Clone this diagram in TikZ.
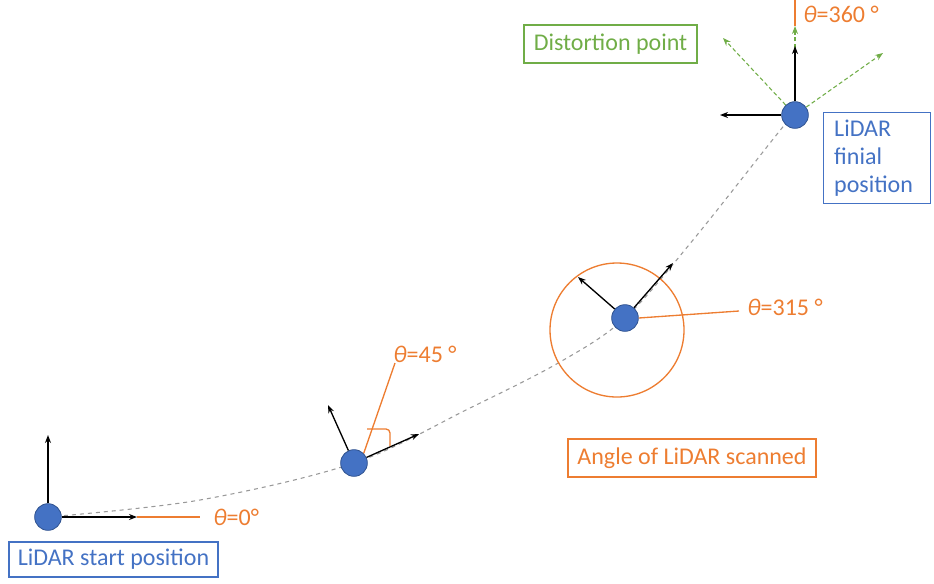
\documentclass[tikz,border=0pt]{standalone}
\usepackage{fontspec}
\setmainfont{Carlito}
\usetikzlibrary{arrows.meta}
\definecolor{lidarblue}{HTML}{4472C4}
\definecolor{dotedge}{HTML}{2F528F}
\definecolor{scanorange}{HTML}{ED7D31}
\definecolor{distgreen}{HTML}{70AD47}

\begin{document}
\begin{tikzpicture}[>={Stealth[length=6pt,width=4.5pt]}, x=0.75pt, y=-0.75pt,
    font=\fontsize{18}{21}\selectfont,
    lidar/.style={circle, fill=lidarblue, draw=dotedge, line width=0.6pt, minimum size=20pt, inner sep=0pt},
    axis/.style={->, line width=1pt},
    scan/.style={scanorange, line width=1pt},
    skew/.style={->, distgreen, densely dashed, line width=0.8pt},
    tag/.style={text=scanorange, inner sep=0pt},
    infobox/.style={draw, line width=0.8pt, inner sep=0pt}]
  \useasboundingbox (0,0) rectangle (934,583);
  % positions along the path
  \coordinate (p1) at (48,517);
  \coordinate (p2) at (354,463);
  \coordinate (p3) at (625,318);
  \coordinate (p4) at (795,115);
  % trajectory of the sensor
  \draw[gray!80, dashed, line width=0.8pt] plot[smooth, tension=0.55] coordinates
    {(p1) (200,500) (p2) (470,408) (560,362) (p3) (693,240) (782,128) (p4)};
  % ---------------------------------------------------------------- start
  \node[lidar] (d1) at (p1) {};
  \coordinate (up1) at (48,435);
  \coordinate (fw1) at (137,517);
  \draw[axis] (d1) -- (up1);
  \draw[scan] (fw1) -- (200,517) coordinate (s1);
  \draw[axis] (d1.east) -- (fw1);
  \node[tag, anchor=west] (t0) at (213,517) {\textit{θ}=0°};
  \node[infobox, draw=lidarblue, text=lidarblue, minimum width=156.75pt, minimum height=26.25pt]
    (start) at (113.5,559.5) {LiDAR start position};
  % ---------------------------------------------------------------- 45 degrees
  \node[lidar] (d2) at (p2) {};
  \coordinate (up2) at (328,405);
  \coordinate (fw2) at (419,434);
  \draw[axis] (d2) -- (up2);
  \draw[axis] (d2) -- (fw2);
  \draw[scan] (d2.north east) -- (395,363) coordinate (s2);
  \draw[scan, rounded corners=3pt] (367,429) -| (390,446);
  \node[tag, anchor=south west] (t45) at (393,363) {\textit{θ}=45 °};
  % ---------------------------------------------------------------- 315 degrees
  \draw[scan] (617,330) circle (67);
  \node[lidar] (d3) at (p3) {};
  \coordinate (up3) at (578,277);
  \coordinate (fw3) at (673,263);
  \draw[axis] (d3) -- (up3);
  \draw[axis] (d3) -- (fw3);
  \node[tag, anchor=west] (t315) at (747,307) {\textit{θ}=315 °};
  \draw[scan] (d3.east) -- (739,311);
  \node[infobox, draw=scanorange, text=scanorange, minimum width=186pt, minimum height=28.5pt]
    (scanned) at (692,458) {Angle of LiDAR scanned};
  % ---------------------------------------------------------------- final
  \node[lidar] (d4) at (p4) {};
  \coordinate (up4) at (795,46);
  \coordinate (bk4) at (720,115);
  \coordinate (g1) at (723,38);
  \coordinate (g2) at (795,26);
  \coordinate (g3) at (883,53);
  \draw[scan] (795,0) -- (g2);
  \draw[skew] (d4) -- (g1);
  \draw[skew] (d4) -- (g2);
  \draw[skew] (d4) -- (g3);
  \draw[axis] (d4) -- (up4);
  \draw[axis] (d4.west) -- (bk4);
  \node[tag, anchor=west] (t360) at (803,14) {\textit{θ}=360 °};
  \node[infobox, draw=distgreen, text=distgreen, minimum width=129.75pt, minimum height=28.5pt]
    (distort) at (610.5,44) {Distortion point};
  \node[infobox, draw=lidarblue, text=lidarblue, anchor=north west, align=left,
    text width=64pt, inner sep=0pt, inner xsep=8pt, minimum height=68.25pt]
    (final) at (823,112) {LiDAR\\finial\\position};
\end{tikzpicture}
\end{document}
